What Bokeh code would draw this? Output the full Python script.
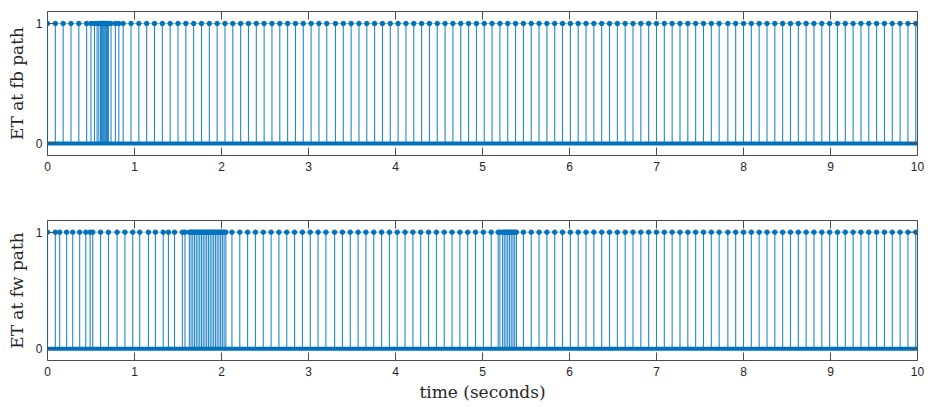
from bokeh.plotting import figure
from bokeh.layouts import column
from bokeh.models import Range1d, FixedTicker
from bokeh.embed import file_html
from bokeh.resources import INLINE

# Event-trigger instants (seconds)
t_fb = [0.00, 0.09, 0.18, 0.27, 0.36, 0.45, 0.50, 0.54, 0.57, 0.59, 0.61, 0.62, 0.63,
        0.64, 0.65, 0.66, 0.67, 0.68, 0.69, 0.70, 0.73, 0.78, 0.82, 0.87, 0.96, 1.05,
        1.14, 1.23, 1.32, 1.41, 1.50, 1.59, 1.68, 1.77, 1.86, 1.95, 2.04, 2.13, 2.22,
        2.31, 2.40, 2.49, 2.58, 2.67, 2.76, 2.85, 2.94, 3.03, 3.12, 3.21, 3.31, 3.40,
        3.49, 3.58, 3.67, 3.76, 3.85, 3.94, 4.03, 4.12, 4.21, 4.30, 4.39, 4.48, 4.57,
        4.66, 4.75, 4.84, 4.93, 5.02, 5.11, 5.20, 5.29, 5.38, 5.47, 5.56, 5.65, 5.74,
        5.83, 5.92, 6.01, 6.10, 6.19, 6.28, 6.37, 6.46, 6.55, 6.64, 6.73, 6.82, 6.91,
        7.00, 7.09, 7.18, 7.27, 7.36, 7.45, 7.54, 7.63, 7.72, 7.82, 7.91, 8.00, 8.09,
        8.18, 8.27, 8.36, 8.45, 8.54, 8.63, 8.72, 8.81, 8.90, 8.99, 9.08, 9.17, 9.26,
        9.35, 9.44, 9.53, 9.62, 9.71, 9.80, 9.89, 9.98]

t_fw = [0.00, 0.09, 0.14, 0.22, 0.29, 0.37, 0.44, 0.49, 0.52, 0.61, 0.70, 0.80, 0.89,
        0.98, 1.06, 1.16, 1.24, 1.33, 1.39, 1.46, 1.55, 1.58, 1.63, 1.65, 1.67, 1.69,
        1.71, 1.73, 1.75, 1.77, 1.79, 1.81, 1.83, 1.85, 1.87, 1.89, 1.91, 1.93, 1.95,
        1.97, 1.99, 2.01, 2.03, 2.05, 2.12, 2.21, 2.30, 2.39, 2.48, 2.57, 2.66, 2.75,
        2.84, 2.93, 3.02, 3.11, 3.20, 3.30, 3.39, 3.48, 3.57, 3.66, 3.75, 3.84, 3.93,
        4.02, 4.11, 4.20, 4.29, 4.38, 4.47, 4.56, 4.65, 4.74, 4.83, 4.92, 5.01, 5.10,
        5.18, 5.20, 5.23, 5.25, 5.27, 5.29, 5.31, 5.33, 5.35, 5.37, 5.39, 5.47, 5.56,
        5.65, 5.74, 5.83, 5.92, 6.01, 6.10, 6.19, 6.28, 6.37, 6.46, 6.55, 6.64, 6.73,
        6.82, 6.91, 7.00, 7.09, 7.18, 7.27, 7.36, 7.45, 7.54, 7.63, 7.72, 7.82, 7.91,
        8.00, 8.09, 8.18, 8.27, 8.36, 8.45, 8.54, 8.63, 8.72, 8.81, 8.90, 8.99, 9.08,
        9.17, 9.26, 9.35, 9.44, 9.53, 9.62, 9.71, 9.80, 9.89, 9.98]

x_ticks = [0, 1, 2, 3, 4, 5, 6, 7, 8, 9, 10]
y_ticks = [0, 1]
ET_off = 0
ET_on = 1

BLUE = "#0072BD"
AX = "#4d4d4d"
TXT = "#262626"
Y0, Y1 = -0.1, 1.1
FRAME_W = 870
TICK_PX = 8


def make_panel(times, ylabel, height, top, bottom, xlabel=None):
    frame_h = height - top - bottom
    p = figure(width=931, height=height, output_backend="svg", toolbar_location=None,
               x_range=Range1d(x_ticks[0], x_ticks[-1]), y_range=Range1d(Y0, Y1),
               min_border_left=47, min_border_right=14,
               min_border_top=top, min_border_bottom=bottom)
    p.xgrid.visible = False
    p.ygrid.visible = False
    p.outline_line_color = AX
    p.outline_line_width = 1
    p.background_fill_color = "white"
    p.border_fill_color = "white"

    # baseline formed by the zero samples, and thin level line at 1
    p.line([x_ticks[0], x_ticks[-1]], [ET_off, ET_off], line_color=BLUE, line_width=4)
    p.line([x_ticks[0], x_ticks[-1]], [ET_on, ET_on], line_color=BLUE, line_width=1,
           line_alpha=0.45)
    # stems
    p.segment(x0=times, y0=[ET_off] * len(times), x1=times, y1=[ET_on] * len(times),
              line_color=BLUE, line_width=1.1, line_alpha=0.85)
    p.scatter(times, [ET_on] * len(times), size=4.5, fill_color=BLUE, line_color=BLUE)

    # inward ticks on the top and right edges of the box
    dy = TICK_PX * (Y1 - Y0) / frame_h
    dx = TICK_PX * (x_ticks[-1] - x_ticks[0]) / FRAME_W
    p.segment(x0=x_ticks, y0=[Y1] * len(x_ticks), x1=x_ticks, y1=[Y1 - dy] * len(x_ticks),
              line_color=AX, line_width=1)
    p.segment(x0=[x_ticks[-1]] * len(y_ticks), y0=y_ticks,
              x1=[x_ticks[-1] - dx] * len(y_ticks), y1=y_ticks,
              line_color=AX, line_width=1)

    for ax in (p.xaxis[0], p.yaxis[0]):
        ax.axis_line_color = None
        ax.major_tick_in = TICK_PX
        ax.major_tick_out = 0
        ax.minor_tick_line_color = None
        ax.major_tick_line_color = AX
        ax.major_label_text_font = "Liberation Sans"
        ax.major_label_text_font_size = "12px"
        ax.major_label_text_color = TXT
        ax.axis_label_text_font = "DejaVu Serif"
        ax.axis_label_text_font_style = "normal"
        ax.axis_label_text_font_size = "17px"
        ax.axis_label_text_color = TXT
    p.xaxis[0].ticker = FixedTicker(ticks=x_ticks)
    p.yaxis[0].ticker = FixedTicker(ticks=y_ticks)
    p.xaxis[0].major_label_standoff = 6
    p.yaxis[0].major_label_standoff = 5
    p.yaxis[0].axis_label = ylabel
    p.yaxis[0].axis_label_standoff = 6
    if xlabel:
        p.xaxis[0].axis_label = xlabel
        p.xaxis[0].axis_label_standoff = 3
    return p


p1 = make_panel(t_fb, "ET at fb path", height=205, top=11, bottom=50)
p2 = make_panel(t_fw, "ET at fw path", height=202, top=15, bottom=47, xlabel="time (seconds)")

layout = column(p1, p2, spacing=0)
open("out.html", "w").write(file_html(layout, INLINE))
